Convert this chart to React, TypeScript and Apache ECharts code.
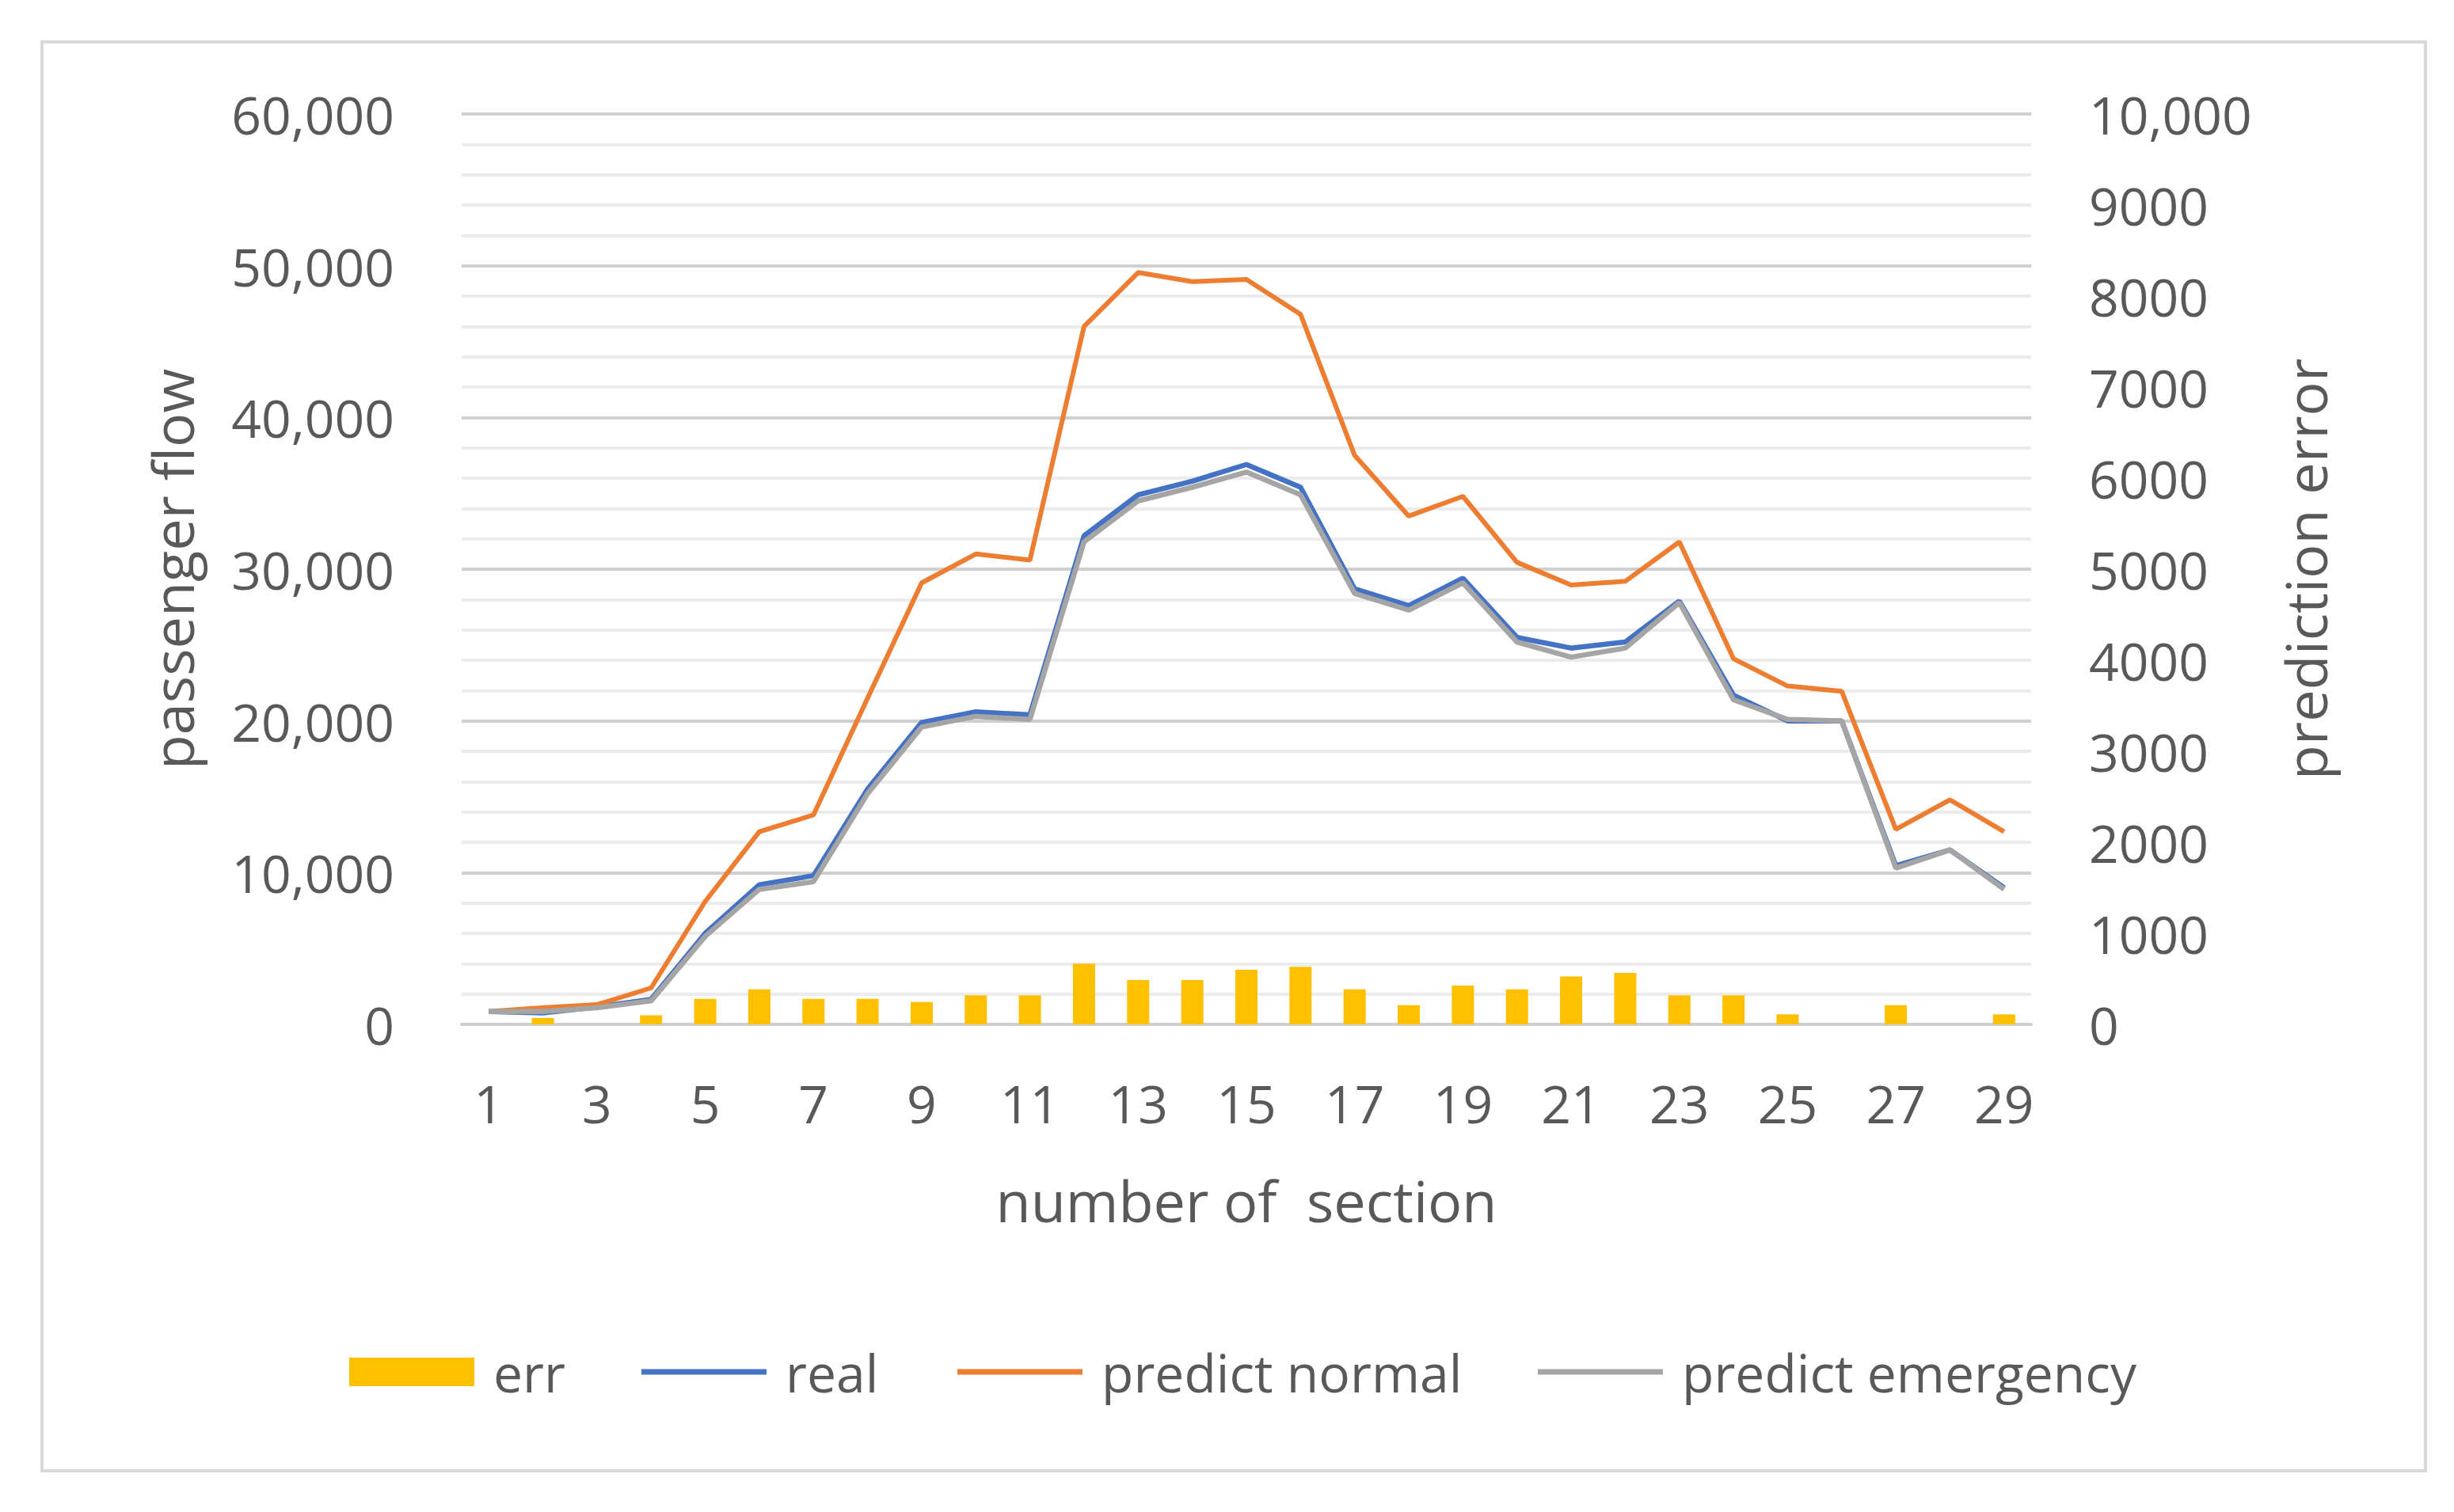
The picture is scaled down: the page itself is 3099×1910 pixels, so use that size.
import React, { useEffect, useRef } from "react";
import * as echarts from "echarts";

const sections = ["1","2","3","4","5","6","7","8","9","10","11","12","13","14","15","16","17","18","19","20","21","22","23","24","25","26","27","28","29"];
const errValues = [0, 70, 0, 100, 280, 385, 280, 280, 246, 319, 319, 667, 487, 487, 600, 632, 385, 211, 426, 385, 527, 565, 319, 319, 110, 0, 211, 0, 110];
const realValues = [850, 750, 1150, 1650, 6000, 9200, 9800, 15500, 19900, 20600, 20400, 32200, 34900, 35800, 36900, 35400, 28700, 27600, 29400, 25500, 24800, 25200, 27900, 21700, 20000, 20000, 10450, 11500, 9000];
const normalValues = [850, 1100, 1300, 2400, 8100, 12700, 13800, 21500, 29100, 31000, 30600, 46000, 49550, 48950, 49100, 46800, 37500, 33500, 34800, 30450, 28960, 29200, 31800, 24100, 22300, 21950, 12850, 14800, 12700];
const emergencyValues = [850, 850, 1100, 1550, 5800, 8900, 9400, 15200, 19600, 20300, 20100, 31800, 34500, 35400, 36400, 34900, 28400, 27300, 29100, 25200, 24200, 24800, 27800, 21400, 20100, 20000, 10300, 11500, 8900];

const FONT = "Open Sans";
const TXT = "#595959";
const TICK = 66;
const TITLE = 72;
const LEG = 66;

function fmtComma(v: number) {
  return String(v).replace(/\B(?=(\d{3})+(?!\d))/g, ",");
}

export default function App() {
  const ref = useRef<HTMLDivElement>(null);
  useEffect(() => {
    if (!ref.current) return;
    const chart = echarts.init(ref.current, null, { renderer: "svg" });
    const legendBase = {
      top: 1700,
      padding: 0,
      itemWidth: 158,
      textStyle: { fontFamily: FONT, fontSize: LEG, color: TXT, padding: [0, 0, 0, 19], lineHeight: LEG },
      selectedMode: false,
    };
    chart.setOption({
      animation: false,
      backgroundColor: "#ffffff",
      textStyle: { fontFamily: FONT },
      graphic: [
        {
          type: "rect",
          shape: { x: 53, y: 53, width: 3010, height: 1805 },
          style: { fill: "none", stroke: "#D9D9D9", lineWidth: 4 },
          silent: true,
        },
      ],
      grid: { left: 583, right: 534, top: 144, bottom: 616, containLabel: false },
      legend: [
        { ...legendBase, left: 441, itemHeight: 36, data: [{ name: "err", icon: "rect" }] },
        { ...legendBase, left: 810, itemHeight: 7, data: [{ name: "real", icon: "rect" }] },
        { ...legendBase, left: 1209, itemHeight: 7, data: [{ name: "predict normal", icon: "rect" }] },
        { ...legendBase, left: 1942, itemHeight: 7, data: [{ name: "predict emergency", icon: "rect" }] },
      ],
      xAxis: {
        type: "category",
        data: sections,
        boundaryGap: true,
        axisTick: { show: false },
        axisLine: { show: true, lineStyle: { color: "#CFCFCF", width: 4 } },
        axisLabel: { interval: 1, color: TXT, fontSize: TICK, fontFamily: FONT, margin: 66, lineHeight: TICK },
        name: "number of  section",
        nameLocation: "middle",
        nameGap: 186,
        nameTextStyle: { color: TXT, fontSize: TITLE, fontFamily: FONT, lineHeight: TITLE },
      },
      yAxis: [
        {
          type: "value",
          min: 0,
          max: 60000,
          interval: 10000,
          axisLine: { show: false },
          axisTick: { show: false },
          axisLabel: { color: TXT, fontSize: TICK, fontFamily: FONT, margin: 85, formatter: (v: number) => fmtComma(v) },
          splitLine: { show: true, lineStyle: { color: "#CFCFCF", width: 4 } },
          minorTick: { show: false, splitNumber: 5 },
          minorSplitLine: { show: true, lineStyle: { color: "#ECECEC", width: 4 } },
          name: "passenger flow",
          nameLocation: "middle",
          nameRotate: 90,
          nameGap: 330,
          nameTextStyle: { color: TXT, fontSize: TITLE, fontFamily: FONT, lineHeight: TITLE },
        },
        {
          type: "value",
          min: 0,
          max: 10000,
          interval: 1000,
          position: "right",
          axisLine: { show: false },
          axisTick: { show: false },
          splitLine: { show: false },
          axisLabel: {
            color: TXT,
            fontSize: TICK,
            fontFamily: FONT,
            margin: 73,
            formatter: (v: number) => (v >= 10000 ? fmtComma(v) : String(v)),
          },
          name: "prediction error",
          nameLocation: "middle",
          nameRotate: 90,
          nameGap: 310,
          nameTextStyle: { color: TXT, fontSize: TITLE, fontFamily: FONT, lineHeight: TITLE },
        },
      ],
      series: [
        {
          name: "err",
          type: "bar",
          yAxisIndex: 1,
          data: errValues,
          barWidth: 28,
          itemStyle: { color: "#FFC000" },
        },
        {
          name: "real",
          type: "line",
          yAxisIndex: 0,
          data: realValues,
          symbol: "none",
          lineStyle: { color: "#4472C4", width: 6.5 },
          itemStyle: { color: "#4472C4" },
        },
        {
          name: "predict normal",
          type: "line",
          yAxisIndex: 0,
          data: normalValues,
          symbol: "none",
          lineStyle: { color: "#ED7D31", width: 6 },
          itemStyle: { color: "#ED7D31" },
        },
        {
          name: "predict emergency",
          type: "line",
          yAxisIndex: 0,
          data: emergencyValues,
          symbol: "none",
          lineStyle: { color: "#A5A5A5", width: 6.5 },
          itemStyle: { color: "#A5A5A5" },
        },
      ],
    });
    return () => chart.dispose();
  }, []);
  return (
    <div
      ref={ref}
      style={{ position: "fixed", left: 0, top: 0, width: 3099, height: 1910, background: "#ffffff" }}
    />
  );
}
